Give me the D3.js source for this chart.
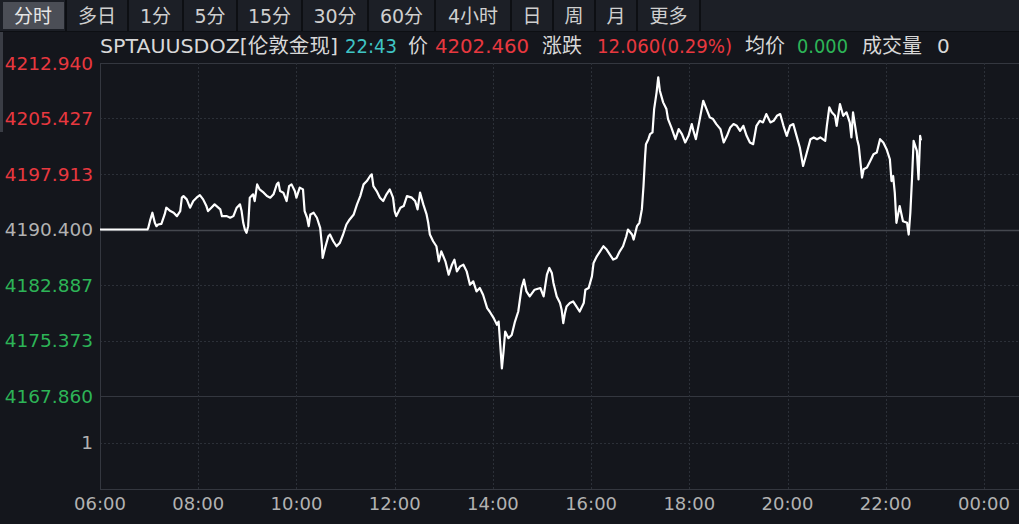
<!DOCTYPE html>
<html><head><meta charset="utf-8">
<script src="https://cdn.jsdelivr.net/npm/d3@7"></script>
<style>
html,body{margin:0;padding:0;background:#14161c;overflow:hidden}
svg{display:block}
text{font-family:"DejaVu Sans","Noto Sans CJK SC",sans-serif}
</style></head><body>
<svg id="c" width="1019" height="524"></svg>
<script>
// ---------- data ----------
const tabs = ["分时","多日","1分","5分","15分","30分","60分","4小时","日","周","月","更多"];
const symbolName = "SPTAUUSDOZ[伦敦金现]";
const quoteTime = "22:43";
const lastPrice = "4202.460";
const changeText = "12.060(0.29%)";
const avgPrice = "0.000";
const volume = "0";
const prevClose = 4190.400;
const priceTicks = [4212.940, 4205.427, 4197.913, 4190.400, 4182.887, 4175.373, 4167.860];
const volumeTicks = [1];
const timeTicks = ["06:00","08:00","10:00","12:00","14:00","16:00","18:00","20:00","22:00","00:00"];
// minutes after 06:00
const minutes = [0,58,59,61,64,67,69,71,75,79,81,86,90,94,98,100,102,106,110,114,118,122,126,130,132,136,140,147,149,155,159,163,167,171,173,175,177,179,181,183,187,189,192,195,200,204,208,212,216,218,220,224,228,231,234,238,240,244,248,250,253,255,257,261,265,269,271,272,275,279,
281,285,289,293,297,301,305,310,314,318,322,326,330,332,334,338,342,346,350,354,358,360,362,367,371,375,381,385,388,391,395,399,401,403,407,411,414,417,422,426,430,433,436,440,444,448,452,456,460,464,468,473,476,481,485,487,489,491,493,495,499,503,507,511,515,518,521,525,
531,538,542,546,549,552,554,558,562,564,566,568,570,574,578,582,586,591,593,597,601,603,607,611,615,619,623,627,631,635,639,643,645,650,652,656,659,662,664,666,667,670,672,675,677,680,682,684,688,692,694,698,703,707,711,715,719,723,725,728,732,737,741,745,749,753,
758,762,766,770,774,778,782,786,790,794,798,802,806,810,814,819,823,827,831,835,839,843,847,851,855,859,863,868,872,876,880,886,888,891,894,898,900,904,908,912,916,918,920,925,927,931,933,937,941,945,949,953,957,961,965,967,969,971,973,977,981,986,988,990,992,994,998,1000,1002,1003];
const prices = [4190.40,4190.40,4190.63,4191.53,4192.67,4191.31,4190.85,4191.08,4191.17,4192.44,4193.35,4192.89,4192.67,4192.21,4192.89,4194.71,4194.92,4194.48,4193.35,4194.25,4194.71,4195.06,4194.48,4193.57,4192.89,4193.35,4193.80,4193.12,4192.21,4192.21,4191.99,4192.21,4193.35,4193.80,4192.89,4191.31,4190.40,4189.95,4190.85,4194.71,4195.16,4194.25,4196.51,4195.83,4195.39,4194.92,4194.71,4195.16,4196.51,4196.75,4195.60,4195.39,4194.25,4196.28,4196.51,4195.60,4194.71,4196.07,4195.83,4192.89,4191.99,4190.85,4192.44,4192.67,4191.99,4190.63,4188.36,4186.55,4187.91,4189.49,
4189.72,4188.81,4188.13,4188.59,4189.72,4191.08,4191.76,4192.44,4193.80,4194.92,4196.51,4196.96,4197.64,4197.87,4196.28,4195.60,4194.71,4194.25,4195.16,4195.83,4194.71,4192.89,4192.21,4193.35,4193.57,4194.92,4194.71,4194.25,4193.12,4195.39,4193.80,4192.44,4191.31,4189.72,4188.81,4188.13,4186.09,4187.45,4186.09,4184.29,4185.64,4186.32,4184.73,4185.41,4185.64,4184.73,4182.93,4183.38,4182.02,4182.48,4181.57,4179.76,4179.30,4178.40,4177.49,4177.94,4174.77,4171.61,4173.86,4176.58,4175.69,4176.13,4177.94,4179.30,4182.48,4183.61,4182.02,4181.34,
4182.25,4182.48,4181.34,4184.29,4185.20,4184.52,4183.16,4181.34,4180.44,4179.53,4177.72,4179.08,4179.98,4180.44,4180.66,4179.98,4179.30,4180.44,4182.25,4182.48,4184.05,4185.88,4186.77,4187.45,4188.13,4187.68,4187.00,4186.32,4186.55,4187.45,4188.13,4189.49,4190.40,4189.72,4189.04,4190.85,4191.31,4193.12,4196.28,4200.36,4201.95,4202.63,4203.31,4203.54,4206.70,4208.97,4211.01,4209.19,4207.61,4206.70,4205.35,4204.22,4202.63,4203.99,4203.31,4202.18,4203.08,4204.67,4203.76,4202.63,4204.90,4207.83,4206.70,4205.58,4205.35,4204.67,
4203.99,4202.18,4203.08,4204.22,4204.67,4204.44,4203.76,4204.44,4203.08,4202.18,4201.95,4204.44,4205.11,4204.90,4206.03,4204.90,4205.11,4205.79,4206.03,4204.44,4203.08,4204.44,4204.67,4203.08,4201.50,4199.00,4200.59,4202.63,4202.86,4202.63,4202.86,4202.40,4204.44,4206.94,4206.26,4205.79,4204.44,4207.38,4205.79,4206.26,4204.90,4202.86,4206.26,4202.63,4201.72,4197.42,4198.55,4198.78,4199.68,4200.59,4200.82,4202.63,4202.18,4201.27,4199.91,4196.96,4197.64,4195.39,4191.31,4193.57,4191.53,4191.31,4189.72,4192.67,4197.19,4202.40,4201.04,4197.19,4203.08,4202.46];

// ---------- layout ----------
const W = 1019, H = 524;
const L = 100, R = 1019, T = 63, PB = 396, B = 489;
const C = {bg:"#14161c", bar:"#1c1f26", sel:"#4b4e56", sep:"#0d0f13", txt:"#d8d8d8",
  red:"#e8383f", green:"#2db457", cyan:"#3fc4c4", gray:"#b2b2b2", grid:"#2c3038", frame:"#34373f", base:"#45484f"};

const svg = d3.select("#c");
svg.append("rect").attr("width",W).attr("height",H).attr("fill",C.bg);

const t0 = new Date(2025,0,1,6,0);
const toDate = m => new Date(t0.getTime() + m*60000);
const parseTick = s => { const [h,mi] = s.split(":").map(Number); let m = (h*60+mi) - 360; if (m < 0) m += 1440; return toDate(m); };

const x = d3.scaleTime().domain([parseTick("06:00"), parseTick("00:00")]).range([L, 984]);
const y = d3.scaleLinear().domain([priceTicks[priceTicks.length-1], priceTicks[0]]).range([PB, T]);
const yv = d3.scaleLinear().domain([0, 2]).range([B, PB]);

// toolbar
const tb = svg.append("g");
tb.append("rect").attr("x",0).attr("y",0).attr("width",W).attr("height",31).attr("fill",C.bar);
const tabEdges = [0,66,128,183,237,302,368,435,511,553,595,637,700];
tabs.forEach((t,i)=>{
  const a = tabEdges[i], b = tabEdges[i+1];
  if (i===0) tb.append("rect").attr("x",a+3).attr("y",2).attr("width",b-a-5).attr("height",27).attr("fill",C.sel);
  tb.append("line").attr("x1",b).attr("x2",b).attr("y1",0).attr("y2",31).attr("stroke",C.sep).attr("stroke-width",2);
  tb.append("text").attr("x",(a+b)/2).attr("y",16).attr("dy","0.36em").attr("text-anchor","middle")
    .attr("font-size",19).attr("fill", i===0 ? "#e6e6e6" : "#cfcfcf").text(t);
});
tb.append("line").attr("x1",0).attr("x2",W).attr("y1",31.5).attr("y2",31.5).attr("stroke",C.sep);
svg.append("rect").attr("x",0).attr("y",32).attr("width",3).attr("height",100).attr("fill","#3a3d45");

// header: [text, colour, left, width]
const hdr = [
  [symbolName, C.txt, 100, 238],
  [quoteTime, C.cyan, 345, 52],
  ["价", C.txt, 408, null],
  [lastPrice, C.red, 435, 94],
  ["涨跌", C.txt, 542, null],
  [changeText, C.red, 597, 135],
  ["均价", C.txt, 745, null],
  [avgPrice, C.green, 797, 51],
  ["成交量", C.txt, 862, null],
  [volume, C.txt, 937, null]
];
hdr.forEach(([s,c,px,w])=>{
  const t = svg.append("text").attr("x",px).attr("y",46).attr("dy","0.36em").attr("font-size",20).attr("fill",c).text(s);
  if (w) t.attr("textLength",w).attr("lengthAdjust","spacingAndGlyphs");
});

// grid
const g = svg.append("g");
priceTicks.forEach(v=>{
  const solid = (v===priceTicks[0] || v===priceTicks[priceTicks.length-1]);
  const base = Math.abs(v-prevClose)<1e-6;
  g.append("line").attr("x1",L).attr("x2",R).attr("y1",Math.round(y(v))+0.5).attr("y2",Math.round(y(v))+0.5)
    .attr("stroke", base ? C.base : (solid ? C.frame : C.grid))
    .attr("stroke-width", base ? 1.5 : 1)
    .attr("stroke-dasharray", (solid||base) ? null : "2,2");
});
volumeTicks.forEach(v=>{
  g.append("line").attr("x1",L).attr("x2",R).attr("y1",Math.round(yv(v))+0.5).attr("y2",Math.round(yv(v))+0.5)
    .attr("stroke",C.grid).attr("stroke-dasharray","2,2");
});
g.append("line").attr("x1",L).attr("x2",R).attr("y1",B+0.5).attr("y2",B+0.5).attr("stroke",C.frame);
g.append("line").attr("x1",L+0.5).attr("x2",L+0.5).attr("y1",T).attr("y2",B).attr("stroke",C.frame);
timeTicks.slice(1).forEach(s=>{
  const px = Math.round(x(parseTick(s)))+0.5;
  g.append("line").attr("x1",px).attr("x2",px).attr("y1",T).attr("y2",B).attr("stroke",C.grid).attr("stroke-dasharray","2,2");
});

// y labels
priceTicks.forEach(v=>{
  const col = v > prevClose+1e-6 ? C.red : (v < prevClose-1e-6 ? C.green : C.gray);
  svg.append("text").attr("x",93).attr("y",y(v)).attr("dy","0.36em").attr("text-anchor","end")
    .attr("font-size",18.5).attr("fill",col).text(v.toFixed(3));
});
volumeTicks.forEach(v=>{
  svg.append("text").attr("x",93).attr("y",yv(v)).attr("dy","0.36em").attr("text-anchor","end")
    .attr("font-size",18.5).attr("fill",C.gray).text(v);
});
// x labels
timeTicks.forEach(s=>{
  svg.append("text").attr("x",x(parseTick(s))).attr("y",504).attr("dy","0.36em").attr("text-anchor","middle")
    .attr("font-size",18).attr("fill",C.gray).text(s);
});

// price line
const series = minutes.map((m,i)=>({t:toDate(m), p:prices[i]}));
svg.append("clipPath").attr("id","clip").append("rect").attr("x",L).attr("y",T).attr("width",R-L).attr("height",PB-T);
svg.append("path").datum(series).attr("clip-path","url(#clip)")
  .attr("fill","none").attr("stroke","#ffffff").attr("stroke-width",2.2).attr("stroke-linejoin","round")
  .attr("d", d3.line().x(d=>x(d.t)).y(d=>y(d.p)));
</script>
</body></html>
